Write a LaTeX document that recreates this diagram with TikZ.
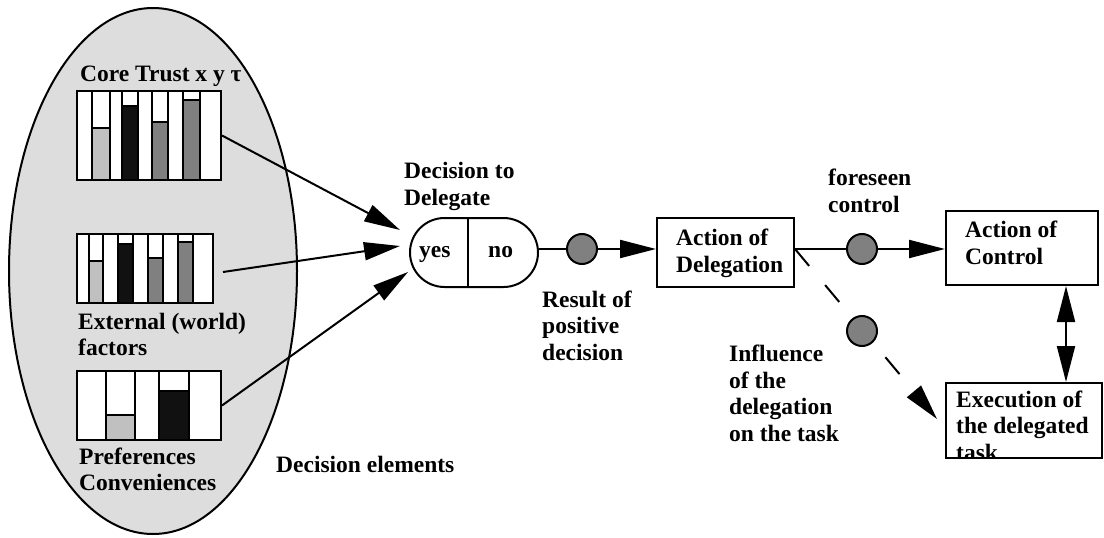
\documentclass[tikz,border=0pt]{standalone}
\usepackage{fontspec}
\setmainfont{Liberation Serif}
\usetikzlibrary{arrows.meta}
\definecolor{ellgray}{HTML}{DDDDDD}
\definecolor{lgray}{HTML}{C0C0C0}
\definecolor{mgray}{HTML}{808080}
\definecolor{dblack}{HTML}{111111}
\tikzset{
  lbl/.style={font=\fontsize{23.5}{26.5}\selectfont\bfseries, align=left, anchor=base west, inner sep=0pt},
  box/.style={draw, line width=2pt, inner sep=0pt},
  con/.style={line width=2pt},
  arr/.style={con, -{Triangle[length=36pt,width=18pt]}},
  dasharr/.style={con, dash pattern=on 22pt off 25pt, -{Triangle[length=36pt,width=18pt]}},
  dblarr/.style={con, {Triangle[length=36pt,width=18pt]}-{Triangle[length=36pt,width=18pt]}},
  dot/.style={circle, draw, line width=2pt, fill=mgray, minimum size=30pt, inner sep=0pt},
  chart/.style={draw, line width=2pt, fill=white, inner sep=0pt},
  col/.style={draw, line width=2pt}
}
\begin{document}
\begin{tikzpicture}[x=1pt,y=-1pt]
\useasboundingbox (0,0) rectangle (1104,538);
% decision elements ellipse
\draw[line width=2pt, fill=ellgray] (153,271) ellipse [x radius=144, y radius=263];
% charts
\node[chart, minimum width=144pt, minimum height=89pt] (ch1) at (149,135.5) {};
\foreach \xa/\xb/\yt/\c in {92/110/128/lgray, 122/138/106/dblack, 152/168/122/mgray, 183/200/100/mgray}{
  \draw[col, fill=white] (\xa,91) rectangle (\xb,180);
  \draw[col, fill=\c] (\xa,\yt) rectangle (\xb,180);
}
\node[chart, minimum width=136pt, minimum height=69pt] (ch2) at (145,268.5) {};
\foreach \xa/\xb/\yt/\c in {89/103/261/lgray, 118/133/244/dblack, 148/163/258/mgray, 178/193/242/mgray}{
  \draw[col, fill=white] (\xa,234) rectangle (\xb,303);
  \draw[col, fill=\c] (\xa,\yt) rectangle (\xb,303);
}
\node[chart, minimum width=144pt, minimum height=69pt] (ch3) at (149,405.5) {};
\foreach \xa/\xb/\yt/\c in {106/135/415/lgray, 159/189/391/dblack}{
  \draw[col, fill=white] (\xa,371) rectangle (\xb,440);
  \draw[col, fill=\c] (\xa,\yt) rectangle (\xb,440);
}
% (base anchor of a multi-line label = baseline of its last line)
\node[lbl] (ct) at (80,81) {Core Trust x y τ};
\node[lbl] (ext) at (78,355.5) {External (world)\\factors};
\node[lbl] (pref) at (79,490.5) {Preferences\\Conveniences};
\node[lbl] (delem) at (276,472) {Decision elements};
% decision node
\node[box, rounded corners=34.5pt, minimum width=128pt, minimum height=69pt] (dec) at (474,252.5) {};
\draw[con] ([xshift=-6pt]dec.north) -- ([xshift=-6pt]dec.south);
\node[lbl] (yes) at (419,257) {yes};
\node[lbl] (no) at (488,257) {no};
\node[lbl] (dtd) at (404,205) {Decision to\\Delegate};
% arrows into decision
\coordinate (t1) at (400,230);
\coordinate (t2) at (400,246);
\coordinate (t3) at (408,272);
\draw[arr] (ch1.east) -- (t1);
\draw[arr] ([shift={(9,3.5)}]ch2.east) -- (t2);
\draw[arr] (ch3.east) -- (t3);
% boxes
\node[box, minimum width=137pt, minimum height=69pt] (adel) at (725.5,252.5) {};
\node[lbl] (adeltxt) at (676,272) {Action of\\Delegation};
\node[box, minimum width=152pt, minimum height=74pt] (actl) at (1022,248) {};
\node[lbl] (actltxt) at (965,264) {Action of\\Control};
% circles
\node[dot] (c1) at (582,249) {};
\node[dot] (c2) at (862,249) {};
\draw[con] (dec.east |- c1) -- (c1.west);
\draw[arr] (c1.east) -- (c1 -| adel.west);
\draw[con] (adel.east |- c2) -- (c2.west);
\draw[arr] (c2.east) -- (c2 -| actl.west);
\node[lbl] (res) at (542,360) {Result of\\positive\\decision};
\node[lbl] (fore) at (828,212) {foreseen\\control};
% dashed influence
\coordinate (tip) at (937,419);
\draw[dasharr] (adel.east |- c2) -- (tip);
\node[dot] (c3) at (862,331) {};
\node[lbl] (infl) at (729,441) {Influence\\of the\\delegation\\on the task};
% execution box
\begin{scope}
  \clip (946,383) rectangle (1102,458);
  \node[lbl] (exectxt) at (956,460) {Execution of\\the delegated\\task};
\end{scope}
\node[box, minimum width=156pt, minimum height=75pt] (exec) at (1024,420.5) {};
\draw[dblarr] ([xshift=44pt]actl.south) -- ([xshift=44pt]actl.south |- exec.north);
\end{tikzpicture}
\end{document}
